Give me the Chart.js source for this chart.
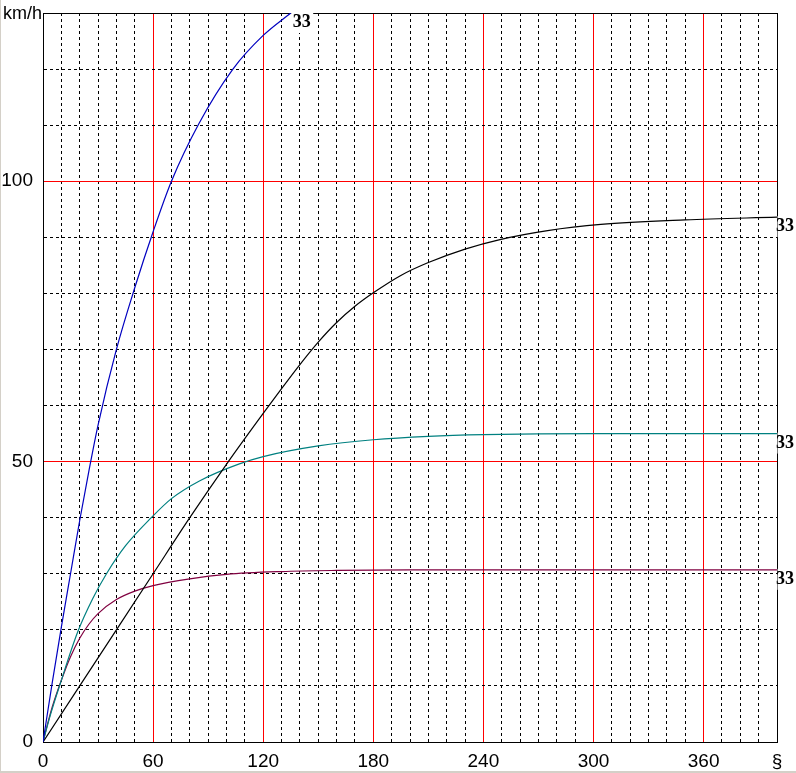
<!DOCTYPE html>
<html>
<head>
<meta charset="utf-8">
<script src="https://cdn.jsdelivr.net/npm/chart.js@4"></script>
<style>
  html, body { margin: 0; padding: 0; background: #d4d0c8; }
  #wrap { position: absolute; left: 1px; top: 0; width: 795px; height: 771px; background: #fff; }
</style>
</head>
<body>
<div id="wrap"><canvas id="speedChart"></canvas></div>
<script>
// time axis and speed values
const blueT   = [0, 5, 10, 15, 20, 25, 30, 40, 50, 60, 70, 85, 103.5, 120, 135];
const blueV   = [0, 10.5, 20.5, 30, 39.5, 48.3, 56.5, 70, 81, 91, 100, 110.3, 120, 126, 130];
const blackT  = [0, 20, 40, 60, 80, 101, 120, 130, 140, 150, 160, 170, 180, 195, 210, 230, 249, 275, 304, 350, 400];
const blackV  = [0, 10, 20, 30, 40, 50, 58.6, 63, 67.3, 71.3, 74.8, 77.7, 80.1, 83.2, 85.5, 87.9, 89.6, 91.2, 92.3, 93.1, 93.6];
const tealT   = [0, 4, 9, 19, 27, 34.6, 45, 59, 70, 85.5, 107, 120, 150, 180, 210, 240, 300, 400];
const tealV   = [0, 4.8, 10, 19.7, 25.5, 30, 35, 40, 43.4, 46.6, 49.6, 50.9, 52.8, 53.9, 54.5, 54.8, 55, 55];
const maroonT = [0, 2, 5, 10, 15, 20, 25, 30, 40, 50, 60, 80, 100, 130, 160, 200, 400];
const maroonV = [0, 2.6, 6.2, 11, 15.2, 18.5, 21, 22.9, 25.4, 26.9, 27.9, 29.1, 29.9, 30.4, 30.6, 30.7, 30.7];

const seriesLabel = "33";
const xTickLabels = { 0: "0", 60: "60", 120: "120", 180: "180", 240: "240", 300: "300", 360: "360", 400: "§" };
const yTickLabels = { 0: "0", 50: "50", 100: "100" };
const yUnit = "km/h";

const pts = (t, v) => t.map((x, i) => ({ x: x, y: v[i] }));
const tickFont = { family: "'Liberation Sans', Arial, sans-serif", size: 19 };
const clear = 'rgba(0,0,0,0)';

const line = (data, color) => ({
  label: seriesLabel,
  data: data,
  borderColor: color,
  borderWidth: 1.2,
  pointRadius: 0,
  fill: false,
  cubicInterpolationMode: 'monotone',
});

// "33" tags at the end of each curve, plus the unit text
const endLabels = {
  id: 'endLabels',
  afterDatasetsDraw(chart) {
    const ctx = chart.ctx;
    const xs = chart.scales.x, ys = chart.scales.y;
    const right = chart.chartArea.right;
    ctx.save();
    chart.data.datasets.forEach(ds => {
      const last = ds.data[ds.data.length - 1];
      const px = xs.getPixelForValue(last.x);
      const py = ys.getPixelForValue(last.y);
      ctx.fillStyle = '#fff';
      ctx.fillRect(px + 0.5, py - 1, 22, 21);
      ctx.fillStyle = '#000';
      ctx.font = "bold 18px 'Liberation Serif', 'Times New Roman', serif";
      ctx.textBaseline = 'top';
      ctx.textAlign = 'left';
      ctx.fillText(ds.label, Math.min(px + 2, right - 1), py + 0.5);
    });
    ctx.font = "18px 'Liberation Sans', Arial, sans-serif";
    ctx.textAlign = 'left';
    ctx.textBaseline = 'middle';
    ctx.fillText(yUnit, 2, 14);
    ctx.restore();
  }
};

const noPad = s => { s.paddingTop = 0; s.paddingBottom = 0; s.paddingLeft = 0; s.paddingRight = 0; };

new Chart(document.getElementById("speedChart"), {
  type: "scatter",
  data: {
    datasets: [
      line(pts(blueT, blueV), '#0000c0'),
      line(pts(blackT, blackV), '#000000'),
      line(pts(tealT, tealV), '#008080'),
      line(pts(maroonT, maroonV), '#800040'),
    ],
  },
  options: {
    responsive: true,
    maintainAspectRatio: false,
    animation: false,
    showLine: true,
    layout: { padding: { top: 13, right: 19, left: 0, bottom: 0 } },
    plugins: { legend: { display: false }, tooltip: { enabled: false } },
    scales: {
      x: {
        type: 'linear', position: 'bottom', min: 0, max: 400,
        ticks: {
          stepSize: 10, autoSkip: false, maxRotation: 0, padding: 8,
          color: '#000', font: tickFont,
          callback: v => (v in xTickLabels ? xTickLabels[v] : ''),
        },
        grid: {
          lineWidth: 1, drawTicks: false,
          color: c => (c.tick && c.tick.value % 60 === 0 ? clear : '#000'),
        },
        border: { display: true, color: '#000', width: 1, dash: [3, 3] },
        afterFit: s => { s.height = 29; noPad(s); },
      },
      x2: {
        type: 'linear', position: 'top', min: 0, max: 400,
        ticks: { display: false, stepSize: 60 },
        grid: {
          drawTicks: false, lineWidth: 1,
          color: c => (c.tick && c.tick.value > 0 && c.tick.value < 400 ? '#ff0000' : clear),
        },
        border: { display: true, color: '#000', width: 1 },
        afterFit: s => { s.height = 0; noPad(s); },
      },
      y: {
        type: 'linear', position: 'left', min: 0, max: 130,
        ticks: {
          stepSize: 10, autoSkip: false, padding: 10,
          color: '#000', font: tickFont,
          callback: v => (v in yTickLabels ? yTickLabels[v] : ''),
        },
        grid: {
          lineWidth: 1, drawTicks: false,
          color: c => (c.tick && c.tick.value % 50 === 0 ? clear : '#000'),
        },
        border: { display: true, color: '#000', width: 1, dash: [3, 3] },
        afterFit: s => { s.width = 42; noPad(s); },
      },
      y2: {
        type: 'linear', position: 'right', min: 0, max: 130,
        ticks: { display: false, stepSize: 50 },
        grid: {
          drawTicks: false, lineWidth: 1,
          color: c => (c.tick && c.tick.value > 0 && c.tick.value < 130 ? '#ff0000' : clear),
        },
        border: { display: true, color: '#000', width: 1 },
        afterFit: s => { s.width = 0; noPad(s); },
      },
    },
  },
  plugins: [endLabels],
});
</script>
</body>
</html>
